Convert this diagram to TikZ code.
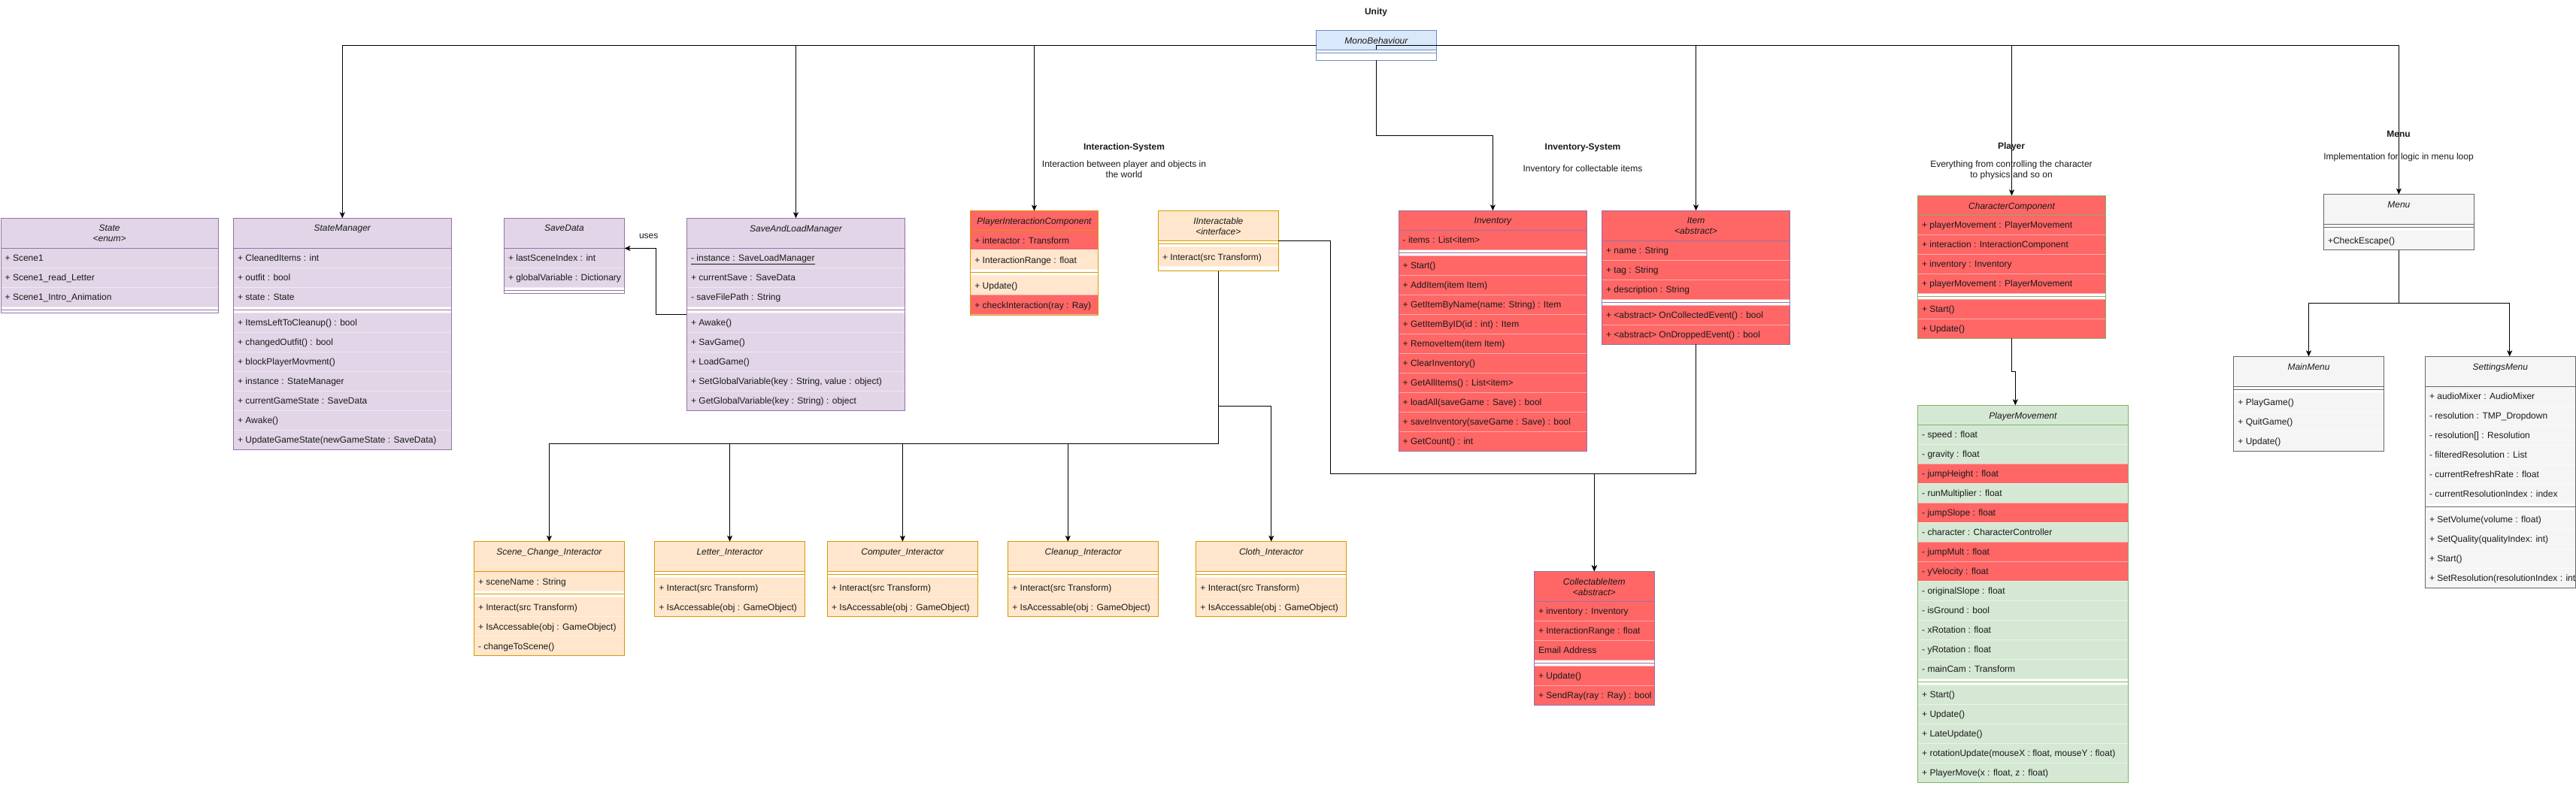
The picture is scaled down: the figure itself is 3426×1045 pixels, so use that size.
\documentclass[tikz,border=0pt]{standalone}
\usepackage{fontspec}
\setmainfont{Liberation Sans}
\usetikzlibrary{arrows.meta,calc}
\definecolor{purF}{HTML}{E1D5E7}\definecolor{purS}{HTML}{9673A6}
\definecolor{redF}{HTML}{FF6666}
\definecolor{orF}{HTML}{FFE6CC}\definecolor{orS}{HTML}{D79B00}
\definecolor{grF}{HTML}{D5E8D4}\definecolor{grS}{HTML}{82B366}
\definecolor{blF}{HTML}{DAE8FC}\definecolor{blS}{HTML}{6C8EBF}
\definecolor{gyF}{HTML}{F5F5F5}\definecolor{gyS}{HTML}{666666}
\definecolor{txt}{HTML}{1A1A1A}
\newcommand\fs{\fontsize{12}{14}\selectfont}
\newcounter{rc}
\newcommand\clsbegin[8]{%
  \xdef\cname{#1}\xdef\cx{#2}\xdef\ctop{#3}\xdef\cw{#4}\xdef\chead{#5}\xdef\cstroke{#7}%
  \path[fill=#6] (#2,#3) rectangle ++(#4,#5);%
  \node[clstitle] (#1-t) at ({#2+#4/2},{#3+9}) {#8};%
  \pgfmathsetmacro\tmp{#3+#5}\xdef\cury{\tmp}%
}
\newcommand\crow[2]{%
  \stepcounter{rc}%
  \path[fill=#1, draw=#1!55!white, line width=0.6pt] (\cx,\cury) rectangle ++(\cw,26);%
  \node[rowtext] (r\arabic{rc}) at ({\cx+5.5},{\cury+13}) {#2};%
  \pgfmathsetmacro\tmp{\cury+26}\xdef\cury{\tmp}%
}
\newcommand\cdiv{%
  \draw[draw=\cstroke, line width=1pt] (\cx,{\cury+4}) -- ++(\cw,0);%
  \pgfmathsetmacro\tmp{\cury+8}\xdef\cury{\tmp}%
}
\newcommand\clsend[1]{%
  \pgfmathsetmacro\tmp{\cury+#1-\ctop}%
  \draw[draw=\cstroke, line width=1pt] (\cx,{\ctop+\chead}) -- ++(\cw,0);%
  \node[draw=\cstroke, line width=1pt, inner sep=0pt, outer sep=0pt, minimum width=\cw pt, minimum height=\tmp pt, anchor=north west] (\cname) at (\cx,\ctop) {};%
}
\begin{document}
\begin{tikzpicture}[x=1pt,y=-1pt,
  clstitle/.style={anchor=north, inner sep=0pt, align=center, font=\fs\itshape, text=txt},
  rowtext/.style={anchor=west, inner sep=0pt, text height=9pt, text depth=0.4pt, font=\fs, text=txt},
  lbl/.style={anchor=center, inner sep=0pt, text height=9pt, text depth=0.4pt, font=\fs, text=txt},
  ttl/.style={lbl, font=\fs\bfseries},
  arr/.style={line width=1pt, draw=black, -{Stealth[length=8pt,width=7pt,inset=2pt]}},
  ln/.style={line width=1pt, draw=black}]
\useasboundingbox (0,0) rectangle (3426,1045);
\clip (0,0) rectangle (3426,1045);
\fill[white] (0,0) rectangle (3426,1045);

% ---------- titles ----------
\node[ttl] (unity) at (1830,15) {Unity};
\node[ttl] (intsys) at (1495,195) {Interaction-System};
\node[lbl] (intsysa) at (1495,217.7) {Interaction between player and objects in};
\node[lbl] (intsysb) at (1495,232.3) {the world};
\node[ttl] (invsys) at (2105,195) {Inventory-System};
\node[lbl] (invsysa) at (2105,224.3) {Inventory for collectable items};
\node[ttl] (plsys) at (2675,194.3) {Player};
\node[lbl] (plsysa) at (2675,217.7) {Everything from controlling the character};
\node[lbl] (plsysb) at (2675,232.3) {to physics and so on};
\node[ttl] (mnsys) at (3190,177.7) {Menu};
\node[lbl] (mnsysa) at (3190,207.7) {Implementation for logic in menu loop};
\node[lbl] (uses) at (862.7,312.7) {uses};

% ---------- MonoBehaviour ----------
\clsbegin{mono}{1750.7}{40.7}{159.3}{26}{blF}{blS}{MonoBehaviour}
\cdiv
\clsend{5.6}

% ---------- State ----------
\clsbegin{state}{1}{290.3}{289.2}{40}{purF}{purS}{State\\<enum>}
\crow{purF}{+ Scene1}
\crow{purF}{+ Scene1\_read\_Letter}
\crow{purF}{+ Scene1\_Intro\_Animation}
\cdiv
\clsend{0}

% ---------- StateManager ----------
\clsbegin{statemgr}{310.4}{290.3}{289.8}{40}{purF}{purS}{StateManager}
\crow{purF}{+ CleanedItems : int}
\crow{purF}{+ outfit : bool}
\crow{purF}{+ state : State}
\cdiv
\crow{purF}{+ ItemsLeftToCleanup() : bool}
\crow{purF}{+ changedOutfit() : bool}
\crow{purF}{+ blockPlayerMovment()}
\crow{purF}{+ instance : StateManager}
\crow{purF}{+ currentGameState : SaveData}
\crow{purF}{+ Awake()}
\crow{purF}{+ UpdateGameState(newGameState : SaveData)}
\clsend{0}

% ---------- SaveData ----------
\clsbegin{savedata}{670.3}{290.3}{160.2}{40}{purF}{purS}{SaveData}
\crow{purF}{+ lastSceneIndex : int}
\crow{purF}{+ globalVariable : Dictionary}
\cdiv
\clsend{0}

% ---------- SaveAndLoadManager ----------
\clsbegin{saveload}{913.4}{290.3}{290.1}{40}{purF}{purS}{SaveAndLoadManager}
\crow{purF}{\underline{- instance : SaveLoadManager}}
\crow{purF}{+ currentSave : SaveData}
\crow{purF}{- saveFilePath : String}
\cdiv
\crow{purF}{+ Awake()}
\crow{purF}{+ SavGame()}
\crow{purF}{+ LoadGame()}
\crow{purF}{+ SetGlobalVariable(key : String, value : object)}
\crow{purF}{+ GetGlobalVariable(key : String) : object}
\clsend{0}

% ---------- PlayerInteractionComponent ----------
\clsbegin{pic}{1290.7}{280.7}{169.6}{26}{redF}{orS}{PlayerInteractionComponent}
\crow{redF}{+ interactor : Transform}
\crow{orF}{+ InteractionRange : float}
\cdiv
\crow{orF}{+ Update()}
\crow{redF}{+ checkInteraction(ray : Ray)}
\clsend{1}

% ---------- IInteractable ----------
\clsbegin{iinter}{1540.3}{280.7}{160}{40}{orF}{orS}{IInteractable\\<interface>}
\cdiv
\crow{orF}{+ Interact(src Transform)}
\clsend{6}

% ---------- Inventory ----------
\clsbegin{inventory}{1860}{280.3}{250.7}{26}{redF}{purS}{Inventory}
\crow{redF}{- items : List<item>}
\cdiv
\crow{redF}{+ Start()}
\crow{redF}{+ AddItem(item Item)}
\crow{redF}{+ GetItemByName(name: String) : Item}
\crow{redF}{+ GetItemByID(id : int) : Item}
\crow{redF}{+ RemoveItem(item Item)}
\crow{redF}{+ ClearInventory()}
\crow{redF}{+ GetAllItems() : List<item>}
\crow{redF}{+ loadAll(saveGame : Save) : bool}
\crow{redF}{+ saveInventory(saveGame : Save) : bool}
\crow{redF}{+ GetCount() : int}
\clsend{0}

% ---------- Item ----------
\clsbegin{item}{2130.4}{280.3}{250.3}{40}{redF}{purS}{Item\\<abstract>}
\crow{redF}{+ name : String}
\crow{redF}{+ tag : String}
\crow{redF}{+ description : String}
\cdiv
\crow{redF}{+ <abstract> OnCollectedEvent() : bool}
\crow{redF}{+ <abstract> OnDroppedEvent() : bool}
\clsend{0}

% ---------- CollectableItem ----------
\clsbegin{collect}{2040.3}{760.3}{160}{40}{redF}{purS}{CollectableItem\\<abstract>}
\crow{redF}{+ inventory : Inventory}
\crow{redF}{+ InteractionRange : float}
\crow{redF}{Email Address}
\cdiv
\crow{redF}{+ Update()}
\crow{redF}{+ SendRay(ray : Ray) : bool}
\clsend{0}

% ---------- CharacterComponent ----------
\clsbegin{cc}{2550.3}{260.3}{250.4}{26}{redF}{grS}{CharacterComponent}
\crow{redF}{+ playerMovement : PlayerMovement}
\crow{redF}{+ interaction : InteractionComponent}
\crow{redF}{+ inventory : Inventory}
\crow{redF}{+ playerMovement : PlayerMovement}
\cdiv
\crow{redF}{+ Start()}
\crow{redF}{+ Update()}
\clsend{0}

% ---------- PlayerMovement ----------
\clsbegin{pm}{2550.5}{539.3}{279.8}{26}{grF}{grS}{PlayerMovement}
\crow{grF}{- speed : float}
\crow{grF}{- gravity : float}
\crow{redF}{- jumpHeight : float}
\crow{grF}{- runMultiplier : float}
\crow{redF}{- jumpSlope : float}
\crow{grF}{- character : CharacterController}
\crow{redF}{- jumpMult : float}
\crow{redF}{- yVelocity : float}
\crow{grF}{- originalSlope : float}
\crow{grF}{- isGround : bool}
\crow{grF}{- xRotation : float}
\crow{grF}{- yRotation : float}
\crow{grF}{- mainCam : Transform}
\cdiv
\crow{grF}{+ Start()}
\crow{grF}{+ Update()}
\crow{grF}{+ LateUpdate()}
\crow{grF}{+ rotationUpdate(mouseX : float, mouseY : float)}
\crow{grF}{+ PlayerMove(x : float, z : float)}
\clsend{0}

% ---------- Menu ----------
\clsbegin{menu}{3090.3}{258.7}{200}{40}{gyF}{gyS}{Menu}
\cdiv
\crow{gyF}{+CheckEscape()}
\clsend{0}

\clsbegin{mainmenu}{2970.7}{474.3}{199.6}{40}{gyF}{gyS}{MainMenu}
\cdiv
\crow{gyF}{+ PlayGame()}
\crow{gyF}{+ QuitGame()}
\crow{gyF}{+ Update()}
\clsend{0}

\clsbegin{settings}{3225.3}{474.3}{200}{40}{gyF}{gyS}{SettingsMenu}
\crow{gyF}{+ audioMixer : AudioMixer}
\crow{gyF}{- resolution : TMP\_Dropdown}
\crow{gyF}{- resolution[] : Resolution}
\crow{gyF}{- filteredResolution : List}
\crow{gyF}{- currentRefreshRate : float}
\crow{gyF}{- currentResolutionIndex : index}
\cdiv
\crow{gyF}{+ SetVolume(volume : float)}
\crow{gyF}{+ SetQuality(qualityIndex: int)}
\crow{gyF}{+ Start()}
\crow{gyF}{+ SetResolution(resolutionIndex : int)}
\clsend{0}

% ---------- Interactors ----------
\clsbegin{scene}{630.3}{720.7}{200.2}{40}{orF}{orS}{Scene\_Change\_Interactor}
\crow{orF}{+ sceneName : String}
\cdiv
\crow{orF}{+ Interact(src Transform)}
\crow{orF}{+ IsAccessable(obj : GameObject)}
\crow{orF}{- changeToScene()}
\clsend{0}

\clsbegin{letter}{870.7}{720.7}{199.7}{40}{orF}{orS}{Letter\_Interactor}
\cdiv
\crow{orF}{+ Interact(src Transform)}
\crow{orF}{+ IsAccessable(obj : GameObject)}
\clsend{0}

\clsbegin{computer}{1100.4}{720.7}{200}{40}{orF}{orS}{Computer\_Interactor}
\cdiv
\crow{orF}{+ Interact(src Transform)}
\crow{orF}{+ IsAccessable(obj : GameObject)}
\clsend{0}

\clsbegin{cleanup}{1340.7}{720.7}{200}{40}{orF}{orS}{Cleanup\_Interactor}
\cdiv
\crow{orF}{+ Interact(src Transform)}
\crow{orF}{+ IsAccessable(obj : GameObject)}
\clsend{0}

\clsbegin{cloth}{1590.7}{720.7}{200}{40}{orF}{orS}{Cloth\_Interactor}
\cdiv
\crow{orF}{+ Interact(src Transform)}
\crow{orF}{+ IsAccessable(obj : GameObject)}
\clsend{0}

% ---------- connectors ----------
\draw[arr] (mono.west) -| (statemgr.north);
\draw[arr] (mono.west) -| (saveload.north);
\draw[arr] (mono.west) -| (pic.north);
\draw[arr] (mono.center) -| (item.north);
\draw[arr] (mono.center) -| (cc.north);
\draw[arr] (mono.center) -| (menu.north);
\draw[ln] (mono.center) -- ++(0,5);
\draw[arr] (mono.south) -- ++(0,100) -| (inventory.north);

\draw[arr] (saveload.west |- 0,418) -| (872,330.5) -- (savedata.east |- 0,330.5);

\draw[arr] (iinter.south) |- (scene.north |- 0,590) -- (scene.north);
\draw[arr] (iinter.south) |- (letter.north |- 0,590) -- (letter.north);
\draw[arr] (iinter.south) |- (computer.north |- 0,590) -- (computer.north);
\draw[arr] (iinter.south) |- (1420.3,590) -- (1420.3,0 |- cleanup.north);
\draw[arr] (iinter.south) |- (cloth.north |- 0,540) -- (cloth.north);

\draw[arr] (iinter.east |- 0,320.5) -| (1769.8,630.7) -| (collect.north);
\draw[arr] (item.south) |- (collect.north |- 0,630.7) -- (collect.north);

\draw[arr] (cc.south) -- ++(0,44) -| (2680.3,0 |- pm.north);

\draw[arr] (menu.south) -- ++(0,70.6) -| (mainmenu.north);
\draw[arr] (menu.south) -- ++(0,70.6) -| (3337.7,0 |- settings.north);
\end{tikzpicture}
\end{document}
